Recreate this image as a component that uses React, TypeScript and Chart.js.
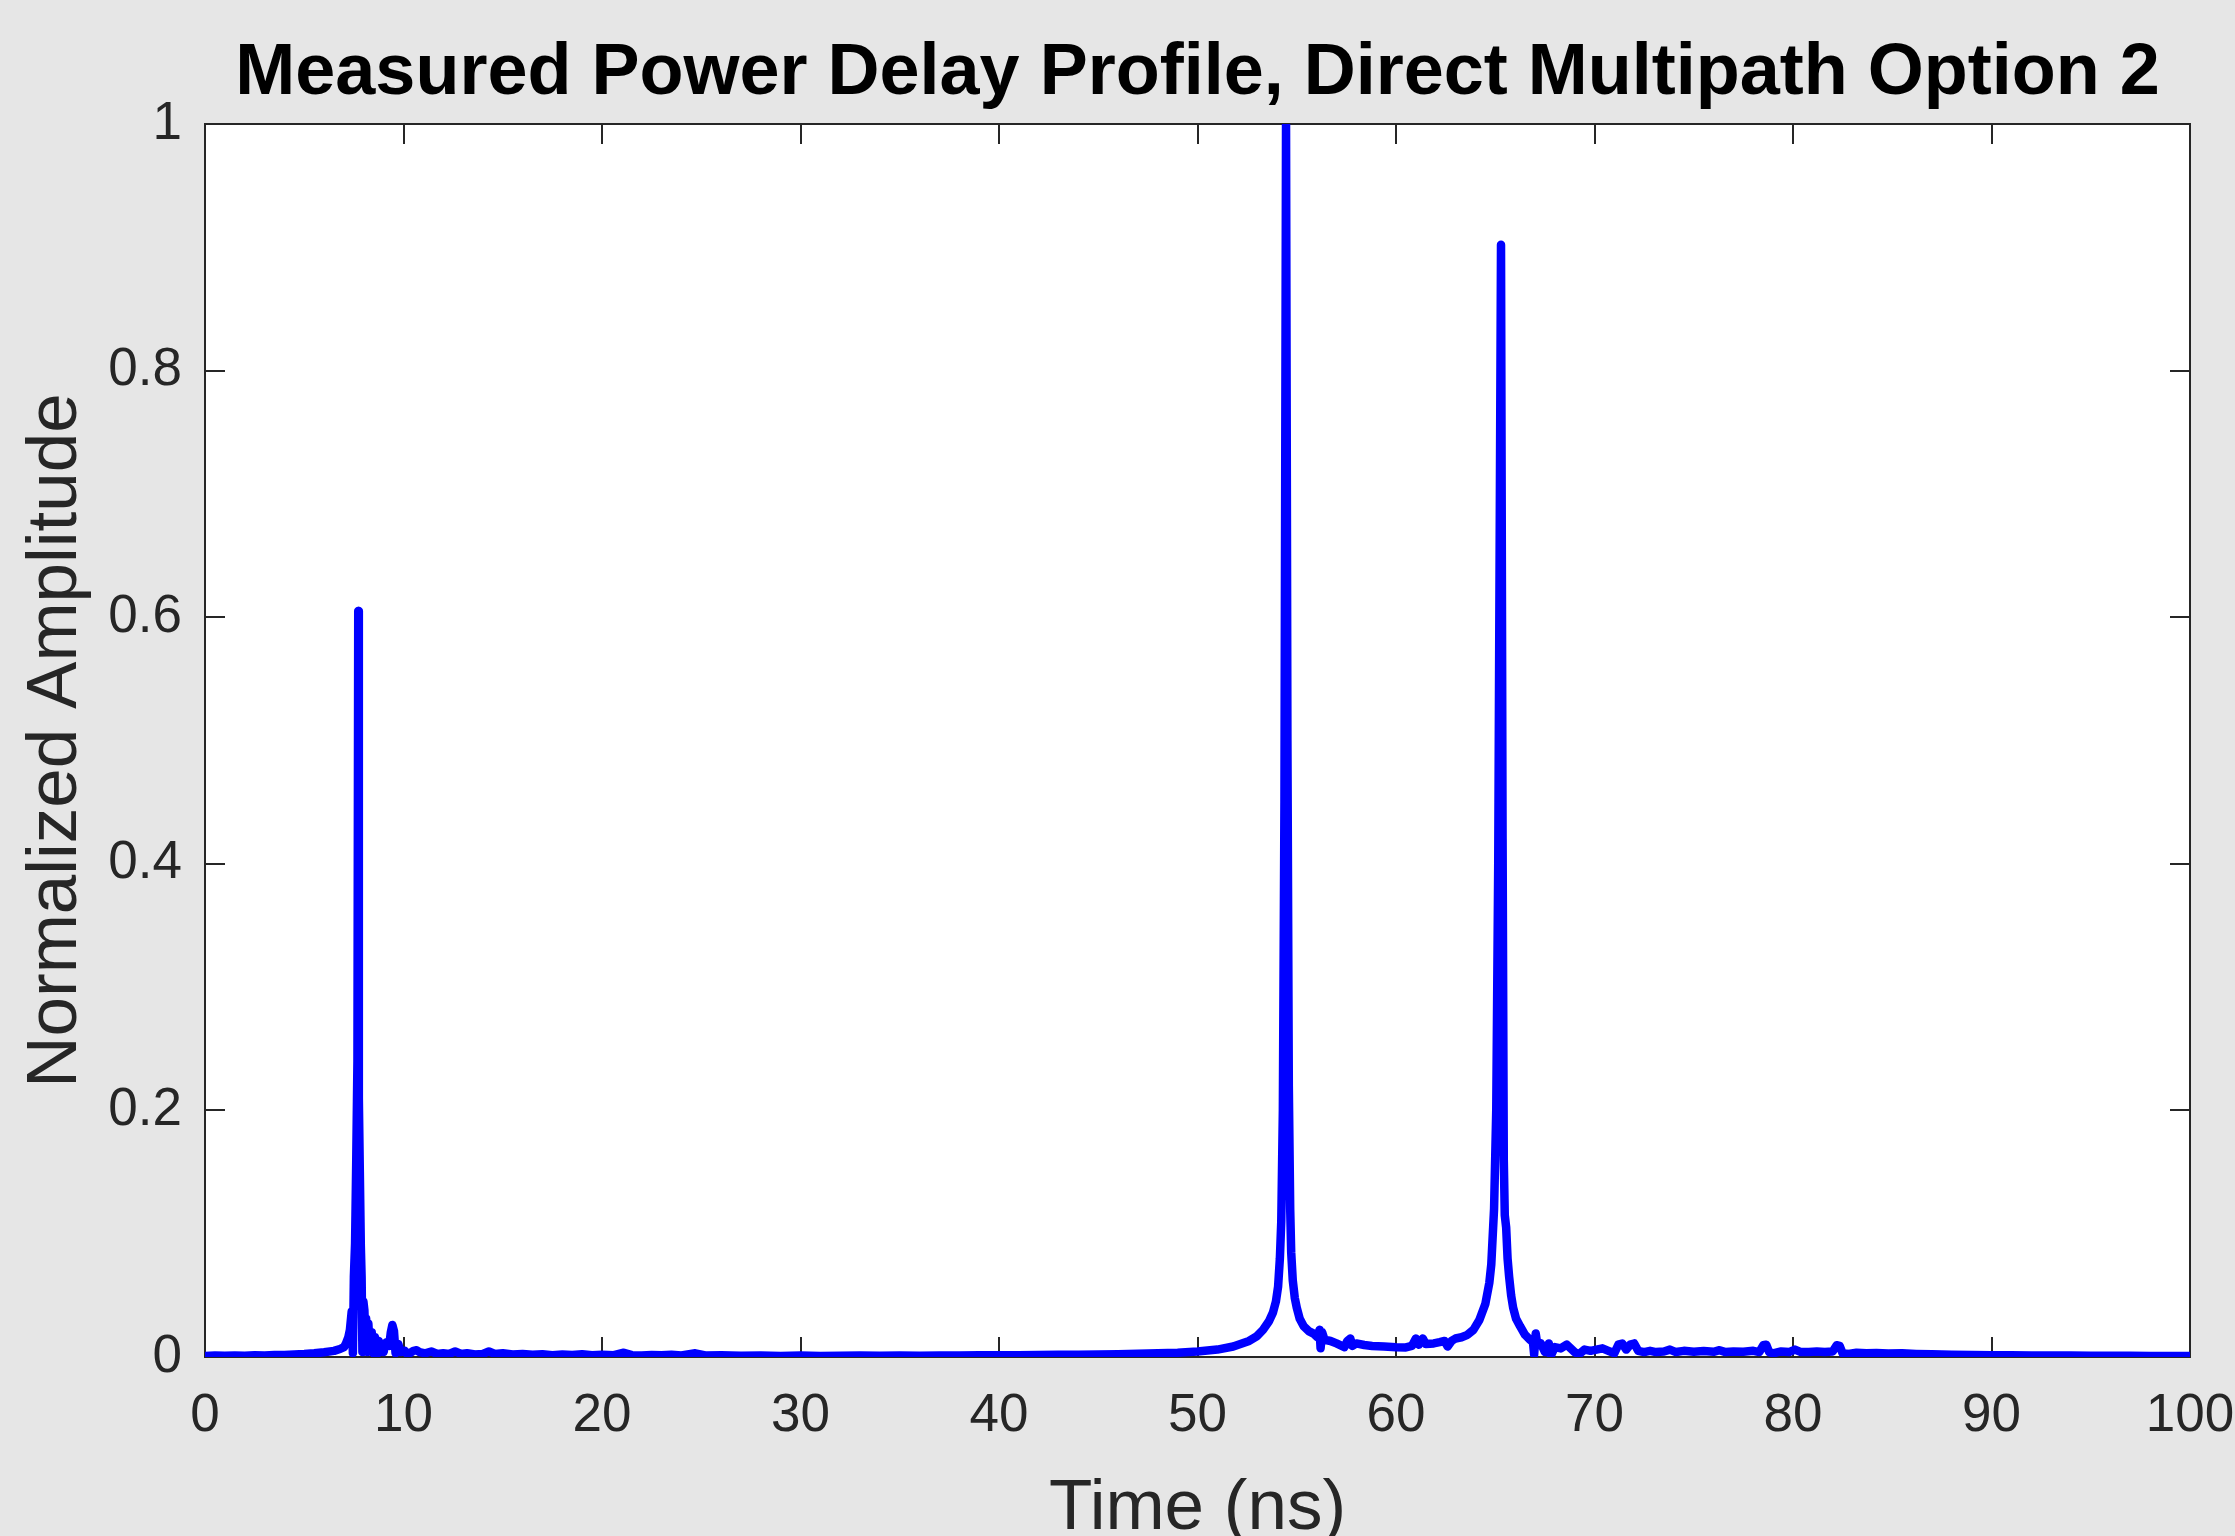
import React, { useEffect, useRef } from 'react';
import { Chart, registerables } from 'chart.js';

Chart.register(...registerables);

const titleText = 'Measured Power Delay Profile, Direct Multipath Option 2';
const xLabel = 'Time (ns)';
const yLabel = 'Normalized Amplitude';

const xTickValues = [0, 10, 20, 30, 40, 50, 60, 70, 80, 90, 100];
const yTickValues = [0, 0.2, 0.4, 0.6, 0.8, 1];
const yTickLabels = ['0', '0.2', '0.4', '0.6', '0.8', '1'];

const timeNs = [
  0, 0.5, 1, 1.5, 2, 2.5, 3, 3.5, 4, 4.5,
  5, 5.5, 6, 6.5, 6.8, 7.0, 7.1, 7.22, 7.3, 7.39,
  7.45, 7.5, 7.56, 7.62, 7.68, 7.72, 7.75, 7.8, 7.85, 7.89,
  7.93, 7.98, 8.03, 8.08, 8.12, 8.18, 8.23, 8.3, 8.4, 8.48,
  8.56, 8.65, 8.75, 8.82, 8.9, 9.0, 9.08, 9.15, 9.28, 9.36,
  9.44, 9.52, 9.6, 9.74, 9.85, 10.07, 10.2, 10.3, 10.5, 10.66,
  10.8, 11.1, 11.4, 11.7, 12.0, 12.3, 12.6, 12.9, 13.2, 13.6,
  14.0, 14.3, 14.6, 15.0, 15.5, 16.0, 16.5, 17, 17.5, 18,
  18.5, 19, 19.5, 20, 20.6, 21.1, 21.5, 22, 22.5, 23,
  23.5, 24, 24.7, 25.2, 26, 27, 28, 29, 30, 31,
  32, 33, 34, 35, 36, 37, 38, 39, 40, 41,
  42, 43, 44, 45, 46, 47, 48, 49, 50, 51,
  51.8, 52.6, 53.0, 53.3, 53.6, 53.8, 53.95, 54.06, 54.15, 54.22,
  54.3, 54.38, 54.46, 54.53, 54.6, 54.67, 54.72, 54.8, 54.9, 55.0,
  55.15, 55.35, 55.6, 55.85, 56.05, 56.15, 56.2, 56.28, 56.4, 56.7,
  57.0, 57.4, 57.55, 57.7, 57.8, 58.0, 58.4, 58.8, 59.4, 60.0,
  60.5, 60.8, 61.0, 61.15, 61.35, 61.5, 61.9, 62.2, 62.45, 62.6,
  62.8, 63.0, 63.3, 63.6, 63.9, 64.2, 64.5, 64.7, 64.8, 64.94,
  65.05, 65.15, 65.29, 65.37, 65.43, 65.48, 65.55, 65.62, 65.7, 65.8,
  65.9, 66.05, 66.25, 66.5, 66.75, 66.9, 66.96, 67.04, 67.12, 67.3,
  67.5, 67.7, 67.8, 68.0, 68.3, 68.6, 68.8, 69.0, 69.2, 69.5,
  69.8, 70.1, 70.4, 70.7, 71.0, 71.2, 71.4, 71.6, 71.8, 72.0,
  72.2, 72.5, 72.8, 73.1, 73.5, 73.8, 74.1, 74.5, 75.0, 75.5,
  76.0, 76.3, 76.6, 77.0, 77.5, 78.0, 78.3, 78.5, 78.65, 78.8,
  79.0, 79.4, 79.8, 80.1, 80.4, 80.8, 81.2, 81.6, 82.0, 82.2,
  82.35, 82.5, 82.8, 83.2, 83.7, 84.2, 84.8, 85.5, 86.2, 87,
  88, 89, 90, 91, 92, 93, 94, 95, 96, 97,
  98, 99, 100,
];

const amplitude = [
  0.0008, 0.0012, 0.0010, 0.0013, 0.0011, 0.0014, 0.0013, 0.0016, 0.0017, 0.0020,
  0.0024, 0.0030, 0.0038, 0.0050, 0.0065, 0.0080, 0.011, 0.016, 0.022, 0.037,
  0.003, 0.065, 0.092, 0.16, 0.24, 0.605, 0.21, 0.15, 0.09, 0.065,
  0.004, 0.045, 0.038, 0.012, 0.031, 0.004, 0.027, 0.006, 0.020, 0.003,
  0.016, 0.002, 0.013, 0.004, 0.0105, 0.004, 0.011, 0.012, 0.009, 0.020,
  0.026, 0.021, 0.003, 0.0105, 0.004, 0.005, 0.002, 0.003, 0.005, 0.0055,
  0.004, 0.003, 0.0045, 0.0025, 0.003, 0.0025, 0.0045, 0.0025, 0.003, 0.002,
  0.0025, 0.0045, 0.0025, 0.003, 0.002, 0.0025, 0.0018, 0.0022, 0.0015, 0.002,
  0.0016, 0.0022, 0.0014, 0.0018, 0.0015, 0.0035, 0.0015, 0.0012, 0.0016, 0.0014,
  0.0018, 0.0013, 0.003, 0.0012, 0.0015, 0.001, 0.0013, 0.0009, 0.0012, 0.0009,
  0.0011, 0.0012, 0.001, 0.0012, 0.0011, 0.0013, 0.0012, 0.0014, 0.0014, 0.0015,
  0.0016, 0.0018, 0.0019, 0.0021, 0.0023, 0.0026, 0.003, 0.0035, 0.0045, 0.006,
  0.0085, 0.013, 0.017, 0.022, 0.029, 0.036, 0.045, 0.057, 0.08, 0.11,
  0.2, 0.45, 1.0, 0.5, 0.22, 0.12, 0.085, 0.062, 0.048, 0.04,
  0.031, 0.025, 0.021, 0.019, 0.016, 0.022, 0.007, 0.02, 0.014, 0.013,
  0.011, 0.008, 0.013, 0.015, 0.009, 0.011, 0.0097, 0.009, 0.0085, 0.008,
  0.0078, 0.009, 0.015, 0.01, 0.015, 0.0105, 0.011, 0.012, 0.013, 0.0085,
  0.013, 0.015, 0.016, 0.018, 0.022, 0.03, 0.043, 0.06, 0.075, 0.12,
  0.2, 0.4, 0.902, 0.42, 0.16, 0.115, 0.105, 0.08, 0.065, 0.05,
  0.04, 0.031, 0.025, 0.018, 0.014, 0.012, 0.002, 0.019, 0.01, 0.011,
  0.004, 0.011, 0.001, 0.008, 0.007, 0.01, 0.007, 0.004, 0.002, 0.006,
  0.005, 0.006, 0.007, 0.005, 0.003, 0.01, 0.011, 0.006, 0.01, 0.011,
  0.005, 0.004, 0.005, 0.004, 0.0045, 0.006, 0.004, 0.005, 0.0042, 0.0048,
  0.0042, 0.0055, 0.004, 0.0045, 0.0042, 0.005, 0.004, 0.0095, 0.01, 0.004,
  0.003, 0.0045, 0.004, 0.006, 0.004, 0.004, 0.0045, 0.004, 0.0045, 0.0095,
  0.009, 0.003, 0.0025, 0.0035, 0.003, 0.0032, 0.0028, 0.003, 0.0025, 0.0022,
  0.0018, 0.0016, 0.0015, 0.0014, 0.0013, 0.0012, 0.0012, 0.0011, 0.001, 0.001,
  0.0009, 0.0009, 0.0008,
];

const FONT = "'Liberation Sans', Arial, Helvetica, sans-serif";
const AXIS_COLOR = '#262626';
const FIG_BG = '#e6e6e6';

export default function App() {
  const ref = useRef<HTMLCanvasElement | null>(null);

  useEffect(() => {
    document.body.style.margin = '0';
    const canvas = ref.current;
    if (!canvas) return;

    const points = timeNs.map((t, i) => ({ x: t, y: amplitude[i] }));

    const axesBox = {
      id: 'axesBox',
      beforeDraw(chart: any) {
        const { ctx, width, height, chartArea: a } = chart;
        ctx.save();
        ctx.fillStyle = FIG_BG;
        ctx.fillRect(0, 0, width, height);
        ctx.fillStyle = '#ffffff';
        ctx.fillRect(a.left, a.top, a.right - a.left, a.bottom - a.top);
        ctx.restore();
      },
      beforeDatasetsDraw(chart: any) {
        const { ctx, chartArea: a, scales } = chart;
        const xs = scales.x;
        const ys = scales.y;
        const len = 20;
        ctx.save();
        ctx.strokeStyle = AXIS_COLOR;
        ctx.lineWidth = 2;
        ctx.beginPath();
        xTickValues.forEach((v) => {
          const px = Math.round(xs.getPixelForValue(v));
          ctx.moveTo(px, a.bottom);
          ctx.lineTo(px, a.bottom - len);
          ctx.moveTo(px, a.top);
          ctx.lineTo(px, a.top + len);
        });
        yTickValues.forEach((v) => {
          const py = Math.round(ys.getPixelForValue(v));
          ctx.moveTo(a.left, py);
          ctx.lineTo(a.left + len, py);
          ctx.moveTo(a.right, py);
          ctx.lineTo(a.right - len, py);
        });
        ctx.stroke();
        ctx.strokeRect(a.left, a.top, a.right - a.left, a.bottom - a.top);
        ctx.restore();
      },
    };

    const chart = new Chart(canvas, {
      type: 'line',
      data: {
        datasets: [
          {
            data: points,
            borderColor: '#0000ff',
            borderWidth: 8.5,
            pointRadius: 0,
            pointHoverRadius: 0,
            tension: 0,
            fill: false,
            borderJoinStyle: 'round',
            borderCapStyle: 'round',
          },
        ],
      },
      options: {
        responsive: false,
        animation: false,
        devicePixelRatio: 1,
        layout: { padding: { top: 0, right: 45, bottom: 0, left: 0 } },
        plugins: {
          legend: { display: false },
          tooltip: { enabled: false },
          title: {
            display: true,
            text: titleText,
            fullSize: false,
            color: '#000000',
            font: { family: FONT, size: 72, weight: 'bold', lineHeight: 1.2 },
            padding: { top: 31, bottom: 6.6 },
          },
        },
        scales: {
          x: {
            type: 'linear',
            min: 0,
            max: 100,
            afterFit: (s: any) => {
              s.height = 179;
              s.paddingLeft = 0;
              s.paddingRight = 0;
            },
            afterBuildTicks: (s: any) => {
              s.ticks = xTickValues.map((v) => ({ value: v }));
            },
            grid: { display: false, drawTicks: false },
            border: { display: false },
            ticks: {
              color: AXIS_COLOR,
              font: { family: FONT, size: 53 },
              padding: 28,
              maxRotation: 0,
              autoSkip: false,
              callback: (v: any) => String(v),
            },
            title: {
              display: true,
              text: xLabel,
              color: AXIS_COLOR,
              font: { family: FONT, size: 71, lineHeight: 0.8 },
              padding: { top: 0, bottom: -2 },
            },
          },
          y: {
            type: 'linear',
            min: 0,
            max: 1,
            afterFit: (s: any) => {
              s.width = 205;
              s.paddingTop = 0;
              s.paddingBottom = 0;
            },
            afterBuildTicks: (s: any) => {
              s.ticks = yTickValues.map((v) => ({ value: v }));
            },
            grid: { display: false, drawTicks: false },
            border: { display: false },
            ticks: {
              color: AXIS_COLOR,
              font: { family: FONT, size: 53 },
              padding: 23,
              autoSkip: false,
              callback: (_v: any, i: number) => yTickLabels[i],
            },
            title: {
              display: true,
              text: yLabel,
              color: AXIS_COLOR,
              font: { family: FONT, size: 71, lineHeight: 1.2 },
              padding: { top: 14, bottom: 0 },
            },
          },
        },
      },
      plugins: [axesBox],
    } as any);

    return () => chart.destroy();
  }, []);

  return (
    <div style={{ width: 2235, height: 1536, background: FIG_BG }}>
      <canvas ref={ref} width={2235} height={1536} style={{ display: 'block', width: 2235, height: 1536 }} />
    </div>
  );
}
